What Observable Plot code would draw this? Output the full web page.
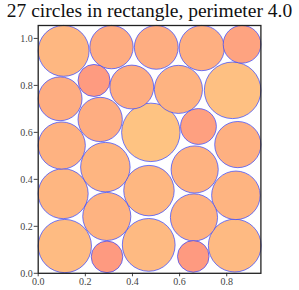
<!DOCTYPE html>
<html>
<head>
<meta charset="utf-8">
<script src="https://cdn.jsdelivr.net/npm/d3@7"></script>
<script src="https://cdn.jsdelivr.net/npm/@observablehq/plot@0.6"></script>
<style>
  body { margin: 0; background: #fff; }
  #title { font-family: 'Liberation Serif', 'Times New Roman', serif; font-size: 19.5px; line-height: 22px; height: 22px; text-align: center; color: #111; white-space: nowrap; width: 299px; }
  svg { display: block; overflow: visible; }
</style>
</head>
<body>
<div id="title">27 circles in rectangle, perimeter 4.0</div>
<div id="chart"></div>
<script>
const titleText = "27 circles in rectangle, perimeter 4.0";
const rectW = 0.945;
const rectH = 1.055;
const xTicks = [0, 0.2, 0.4, 0.6, 0.8];
const yTicks = [0, 0.2, 0.4, 0.6, 0.8, 1.0];
const cx = [0.108, 0.311, 0.501, 0.694, 0.865,
            0.093, 0.237, 0.397, 0.595, 0.825,
            0.100, 0.263, 0.478, 0.680, 0.847,
            0.106, 0.285, 0.470, 0.664, 0.839,
            0.291, 0.661,
            0.113, 0.292, 0.469, 0.658, 0.834];
const cy = [0.947, 0.963, 0.962, 0.959, 0.975,
            0.743, 0.821, 0.793, 0.783, 0.779,
            0.544, 0.655, 0.600, 0.625, 0.548,
            0.339, 0.452, 0.352, 0.442, 0.332,
            0.242, 0.238,
            0.116, 0.070, 0.121, 0.072, 0.118];
const cr = [0.108, 0.092, 0.093, 0.096, 0.080,
            0.093, 0.068, 0.093, 0.102, 0.120,
            0.100, 0.094, 0.124, 0.076, 0.098,
            0.106, 0.105, 0.107, 0.100, 0.103,
            0.102, 0.100,
            0.113, 0.067, 0.112, 0.067, 0.112];

const circles = cx.map((x, i) => ({x, y: cy[i], r: cr[i]}));

const width = 299, height = 268;
const marginLeft = 37.7, marginRight = 38.6, marginTop = 3, marginBottom = 17.2;
const pxPerUnit = (width - marginLeft - marginRight) / rectW;

const chart = Plot.plot({
  width, height, marginLeft, marginRight, marginTop, marginBottom,
  style: {fontFamily: "'Liberation Serif', 'Times New Roman', serif", fontSize: "10px", color: "#444", background: "#fff"},
  x: {domain: [0, rectW], ticks: xTicks, tickFormat: d3.format(".1f"), label: null, tickSize: 3.5, tickPadding: 1},
  y: {domain: [0, rectH], ticks: yTicks, tickFormat: d3.format(".1f"), label: null, tickSize: 4, tickPadding: 1.5},
  r: {type: "linear", domain: [0, 1], range: [0, pxPerUnit]},
  color: {type: "linear", domain: [d3.min(cr), d3.max(cr)], range: ["#fe9a80", "#fec382"]},
  marks: [
    Plot.dot(circles, {x: "x", y: "y", r: "r", fill: "r", stroke: "#3344ff", strokeOpacity: 0.7, strokeWidth: 1}),
    Plot.frame({stroke: "#222", strokeWidth: 1.3})
  ]
});
document.getElementById("chart").appendChild(chart);
</script>
</body>
</html>
